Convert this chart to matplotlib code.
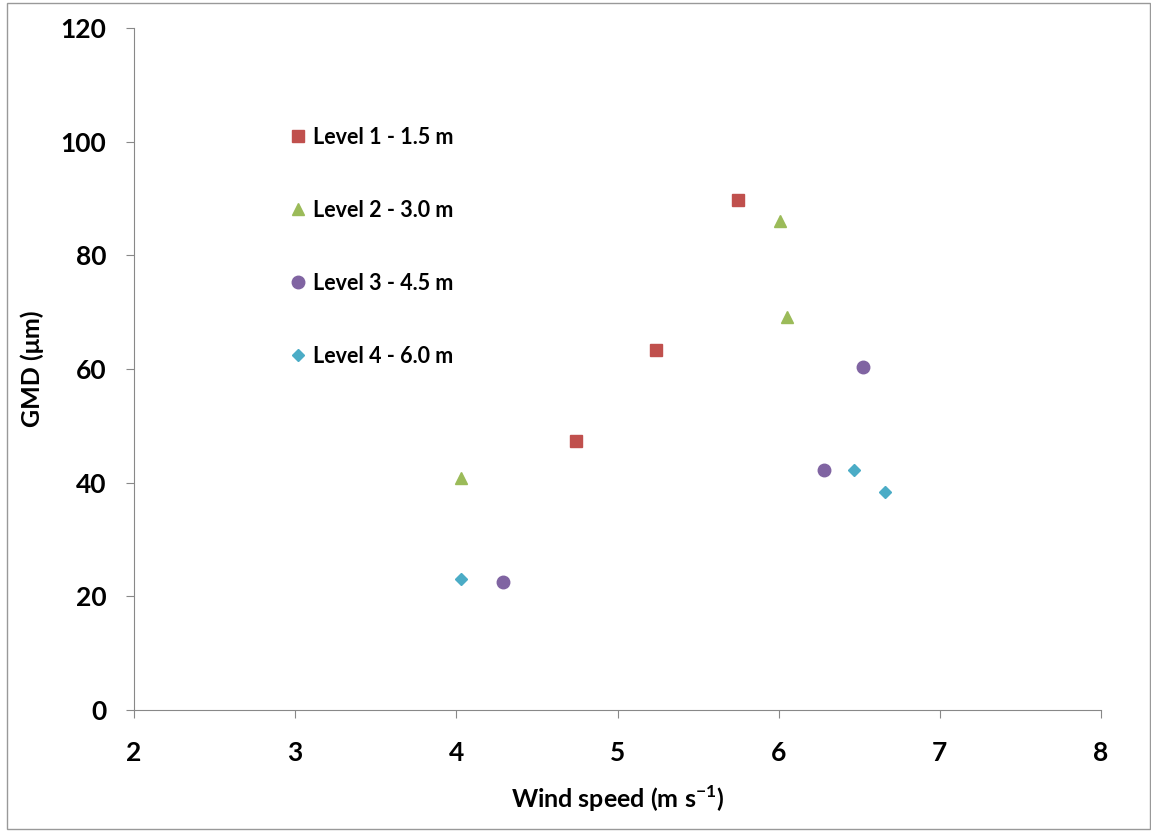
import matplotlib.pyplot as plt
from matplotlib.patches import Rectangle

plt.rcParams['font.family'] = ['Lato', 'DejaVu Sans']

# wind speed (m/s) and GMD (um) per sampling level
level1_x = [4.74, 5.24, 5.75]
level1_y = [47.4, 63.4, 89.7]
level2_x = [4.03, 6.01, 6.05]
level2_y = [40.8, 86.1, 69.2]
level3_x = [4.29, 6.28, 6.52]
level3_y = [22.6, 42.3, 60.3]
level4_x = [4.03, 6.47, 6.66]
level4_y = [23.0, 42.3, 38.3]

labels = ["Level 1 - 1.5 m", "Level 2 - 3.0 m", "Level 3 - 4.5 m", "Level 4 - 6.0 m"]
colors = ["#C0504D", "#9BBB59", "#8064A2", "#4BACC6"]
markers = ["s", "^", "o", "D"]
sizes = [8.5, 9, 9, 6.5]

fig = plt.figure(figsize=(11.51, 8.32), dpi=100)
ax = fig.add_axes([0.1164, 0.1466, 0.8402, 0.8197])

series = [(level1_x, level1_y), (level2_x, level2_y), (level3_x, level3_y), (level4_x, level4_y)]
for (x, y), lab, c, m, s in zip(series, labels, colors, markers, sizes):
    ax.plot(x, y, ls="none", marker=m, color=c, markersize=s, label=lab)

ax.set_xlim(2, 8)
ax.set_ylim(0, 120)
ax.set_xticks(range(2, 9))
ax.set_yticks(range(0, 121, 20))

for side in ["top", "right"]:
    ax.spines[side].set_visible(False)
for side in ["left", "bottom"]:
    ax.spines[side].set_color("#888888")
ax.tick_params(direction="out", length=6, color="#888888", labelsize=19)
ax.tick_params(axis="x", pad=16)
ax.tick_params(axis="y", pad=14)
for t in ax.get_xticklabels() + ax.get_yticklabels():
    t.set_fontweight("bold")

ax.set_xlabel("Wind speed (m s$^{\\mathregular{-1}}$)", fontsize=18, fontweight="bold", labelpad=14)
ax.set_ylabel("GMD (\u03bcm)", fontsize=18, fontweight="bold", labelpad=12)

ax.legend(loc="upper left", bbox_to_anchor=(0.136, 0.884), frameon=False,
          labelspacing=2.42, handletextpad=0.1, handlelength=1.2,
          prop={"weight": "bold", "size": 15.5})

fig.patches.append(Rectangle((0.006, 0.004), 0.993, 0.992, transform=fig.transFigure,
                             fill=False, edgecolor="#999999", linewidth=1))

fig.savefig("out.png", dpi=100)
